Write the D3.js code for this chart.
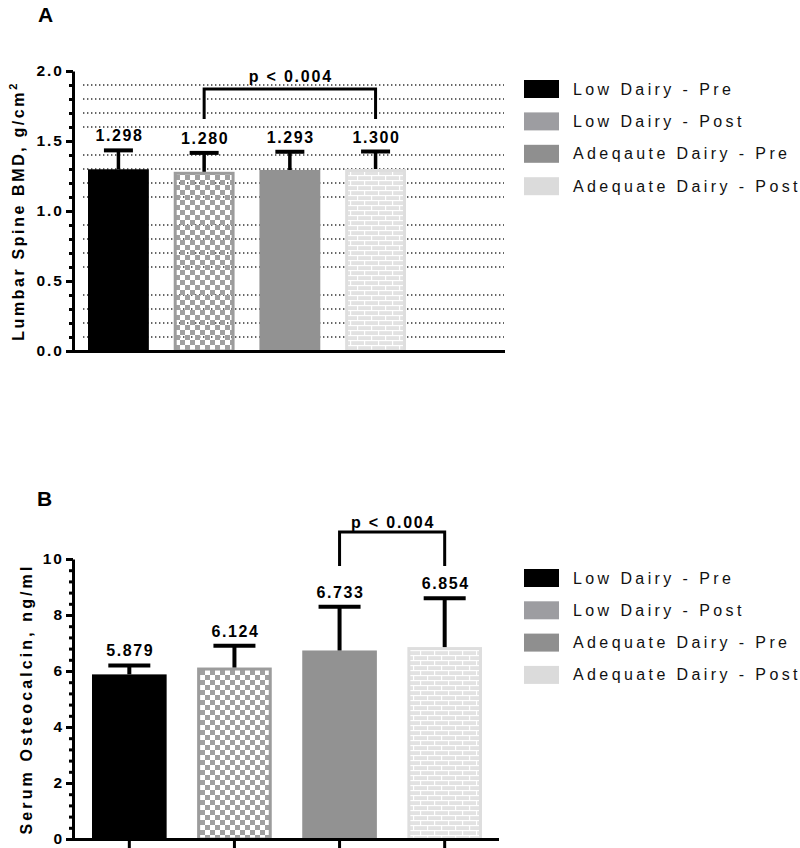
<!DOCTYPE html>
<html>
<head>
<meta charset="utf-8">
<script src="https://cdn.jsdelivr.net/npm/d3@7"></script>
<style>
  html, body { margin: 0; padding: 0; background: #fff; }
  svg { display: block; font-family: "Liberation Sans", Arial, sans-serif; }
</style>
</head>
<body>
<svg id="chart" width="800" height="848"></svg>
<script>
// ---------------- DATA ----------------
const categoriesA = ["Low Dairy - Pre", "Low Dairy - Post", "Adeqaute Dairy - Pre", "Adequate Dairy - Post"];
const categoriesB = ["Low Dairy - Pre", "Low Dairy - Post", "Adequate Dairy - Pre", "Adequate Dairy - Post"];
const bmdMean = [1.298, 1.280, 1.293, 1.300];
const bmdErr  = [0.135, 0.135, 0.130, 0.125];
const bmdLabels = ["1.298", "1.280", "1.293", "1.300"];
const ocMean = [5.879, 6.124, 6.733, 6.854];
const ocErr  = [0.32, 0.78, 1.56, 1.74];
const ocLabels = ["5.879", "6.124", "6.733", "6.854"];
const bmdTicks = [0, 0.5, 1.0, 1.5, 2.0];
const ocTicks = [0, 2, 4, 6, 8, 10];
const sigA = { from: 1, to: 3, label: "p < 0.004", level: 1.871, legEnd: 1.657, textLevel: 1.925 };
const sigB = { from: 2, to: 3, label: "p < 0.004", level: 10.96, legEnd: 9.75, textLevel: 11.12 };

// ---------------- STYLE ----------------
const barFills = ["#000000", "url(#checker)", "#929292", "url(#brick)"];
const barStrokes = ["none", "#9c9c9c", "none", "#dedede"];
const swatchColors = ["#000000", "#9d9da1", "#8f8f8f", "#dbdbdb"];

const svg = d3.select("#chart");
const defs = svg.append("defs");

// checker pattern
const chk = defs.append("pattern").attr("id", "checker")
  .attr("patternUnits", "userSpaceOnUse").attr("width", 10).attr("height", 10);
chk.append("rect").attr("x", 0).attr("y", 0).attr("width", 5).attr("height", 5).attr("fill", "#a0a0a0");
chk.append("rect").attr("x", 5).attr("y", 5).attr("width", 5).attr("height", 5).attr("fill", "#a0a0a0");

// brick pattern
const brk = defs.append("pattern").attr("id", "brick")
  .attr("patternUnits", "userSpaceOnUse").attr("width", 14).attr("height", 10);
brk.append("rect").attr("width", 14).attr("height", 10).attr("fill", "#e2e2e2");
brk.append("rect").attr("x", 0).attr("y", 0).attr("width", 14).attr("height", 1.2).attr("fill", "#fff");
brk.append("rect").attr("x", 0).attr("y", 5).attr("width", 14).attr("height", 1.2).attr("fill", "#fff");
brk.append("rect").attr("x", 0).attr("y", 0).attr("width", 1.2).attr("height", 5).attr("fill", "#fff");
brk.append("rect").attr("x", 7).attr("y", 5).attr("width", 1.2).attr("height", 5).attr("fill", "#fff");

function drawPanel(o) {
  const g = svg.append("g");
  const y = o.y, x = o.x;
  const left = 73;

  // panel letter
  g.append("text").attr("x", o.letterX).attr("y", o.letterY)
    .attr("font-size", 21).attr("font-weight", "bold").text(o.letter);

  // gridlines
  if (o.grid) {
    g.append("g").selectAll("line").data(o.grid).join("line")
      .attr("x1", o.gridX0).attr("x2", o.gridX1)
      .attr("y1", d => y(d)).attr("y2", d => y(d))
      .attr("stroke", "#333").attr("stroke-width", 1.4)
      .attr("stroke-dasharray", "1.4,2.6");
  }

  // bars
  const data = o.cats.map((c, i) => ({ c, i, m: o.mean[i], e: o.err[i], lab: o.labels[i] }));
  const bw = x.bandwidth();
  g.append("g").selectAll("rect").data(data).join("rect")
    .attr("x", d => x(d.c) + (barStrokes[d.i] === "none" ? 0 : 1.5))
    .attr("y", d => y(d.m) + (barStrokes[d.i] === "none" ? 0 : 1.5))
    .attr("width", d => bw - (barStrokes[d.i] === "none" ? 0 : 3))
    .attr("height", d => y(0) - y(d.m) - (barStrokes[d.i] === "none" ? 0 : 1.5))
    .attr("fill", d => barFills[d.i])
    .attr("stroke", d => barStrokes[d.i])
    .attr("stroke-width", 3);

  // error bars
  const eg = g.append("g").attr("stroke", "#000");
  eg.selectAll("line.stem").data(data).join("line").attr("class", "stem")
    .attr("x1", d => x(d.c) + bw / 2).attr("x2", d => x(d.c) + bw / 2)
    .attr("y1", d => y(d.m)).attr("y2", d => y(d.m + d.e))
    .attr("stroke-width", o.stemW);
  eg.selectAll("line.cap").data(data).join("line").attr("class", "cap")
    .attr("x1", d => x(d.c) + bw / 2 - o.capW / 2).attr("x2", d => x(d.c) + bw / 2 + o.capW / 2)
    .attr("y1", d => y(d.m + d.e)).attr("y2", d => y(d.m + d.e))
    .attr("stroke-width", 4);

  // value labels
  g.append("g").selectAll("text").data(data).join("text")
    .attr("x", d => x(d.c) + bw / 2 + 1)
    .attr("y", d => y(d.m + d.e) - 9)
    .attr("text-anchor", "middle")
    .attr("font-size", 16).attr("font-weight", "bold").attr("letter-spacing", "1.6px")
    .text(d => d.lab);

  // axes
  const minorAx = g.append("g").attr("transform", `translate(${left},0)`)
    .call(d3.axisLeft(y).tickValues(o.minor).tickSize(4).tickSizeOuter(0).tickFormat(""));
  minorAx.select(".domain").remove();
  minorAx.selectAll(".tick line").attr("stroke-width", 3);

  const majorAx = g.append("g").attr("transform", `translate(${left},0)`)
    .call(d3.axisLeft(y).tickValues(o.ticks).tickSize(7).tickSizeOuter(0).tickPadding(2).tickFormat(o.fmt));
  majorAx.select(".domain").attr("stroke-width", 3);
  majorAx.selectAll(".tick line").attr("stroke-width", 3);
  majorAx.selectAll(".tick text")
    .attr("font-size", 15.5).attr("font-weight", "bold").attr("letter-spacing", "2px")
    .attr("font-family", "Liberation Sans, Arial, sans-serif").attr("fill", "#000");

  // x axis line
  g.append("line").attr("x1", left - 1.5).attr("x2", o.xEnd)
    .attr("y1", y(0) + 0.5).attr("y2", y(0) + 0.5)
    .attr("stroke", "#000").attr("stroke-width", 3);

  if (o.catTicks) {
    g.append("g").selectAll("line").data(o.cats).join("line")
      .attr("x1", d => x(d) + bw / 2).attr("x2", d => x(d) + bw / 2)
      .attr("y1", y(0)).attr("y2", y(0) + 10)
      .attr("stroke", "#000").attr("stroke-width", 3);
  }

  // y-axis title
  const t = g.append("text")
    .attr("transform", `translate(${o.titleX},${(y.range()[0] + y.range()[1]) / 2}) rotate(-90)`)
    .attr("text-anchor", "middle")
    .attr("font-size", 16).attr("font-weight", "bold").attr("letter-spacing", o.titleLS + "px");
  t.append("tspan").text(o.title);
  if (o.titleSup) t.append("tspan").attr("dy", -7).attr("font-size", 11).text(o.titleSup);

  // significance bracket
  const s = o.sig;
  const xa = x(o.cats[s.from]) + bw / 2, xb = x(o.cats[s.to]) + bw / 2;
  g.append("path")
    .attr("d", `M${xa},${y(s.legEnd)}V${y(s.level)}H${xb}V${y(s.legEnd)}`)
    .attr("fill", "none").attr("stroke", "#000").attr("stroke-width", 3);
  g.append("text").attr("x", (xa + xb) / 2 + 1).attr("y", y(s.textLevel))
    .attr("text-anchor", "middle")
    .attr("font-size", 16).attr("font-weight", "bold").attr("letter-spacing", "1.8px")
    .text(s.label);

  // legend
  const lg = g.append("g");
  const rows = lg.selectAll("g").data(o.cats).join("g")
    .attr("transform", (d, i) => `translate(524,${o.legY + i * o.legStep})`);
  rows.append("rect").attr("x", 0).attr("y", -9).attr("width", 35).attr("height", 18)
    .attr("fill", (d, i) => swatchColors[i]);
  rows.append("text").attr("x", 49).attr("y", 5.5)
    .attr("font-size", 16).attr("letter-spacing", "3.4px").attr("fill", "#111")
    .text(d => d);
}

// Panel A
drawPanel({
  letter: "A", letterX: 38, letterY: 22,
  cats: categoriesA, mean: bmdMean, err: bmdErr, labels: bmdLabels,
  y: d3.scaleLinear().domain([0, 2]).range([351, 71]),
  x: d3.scaleBand().domain(categoriesA).range([88, 406]).paddingInner(0.29),
  ticks: bmdTicks, fmt: d3.format(".1f"),
  minor: d3.range(0, 2.0001, 0.1),
  grid: d3.range(1, 20).filter(k => k % 5 !== 0).map(k => k / 10),
  gridX0: 83, gridX1: 504,
  xEnd: 505, catTicks: false,
  stemW: 3.5, capW: 29,
  title: "Lumbar Spine BMD, g/cm", titleSup: "2", titleX: 24, titleLS: 2.6,
  sig: sigA,
  legY: 89, legStep: 32.4
});

// Panel B
drawPanel({
  letter: "B", letterX: 37, letterY: 506,
  cats: categoriesB, mean: ocMean, err: ocErr, labels: ocLabels,
  y: d3.scaleLinear().domain([0, 10]).range([839, 559]),
  x: d3.scaleBand().domain(categoriesB).range([92, 482]).paddingInner(0.29),
  ticks: ocTicks, fmt: d3.format("d"),
  minor: d3.range(0, 10.001, 0.4),
  grid: null,
  xEnd: 499, catTicks: true,
  stemW: 4, capW: 42,
  title: "Serum Osteocalcin, ng/ml", titleSup: null, titleX: 32, titleLS: 3.1,
  sig: sigB,
  legY: 578, legStep: 32.3
});
</script>
</body>
</html>
